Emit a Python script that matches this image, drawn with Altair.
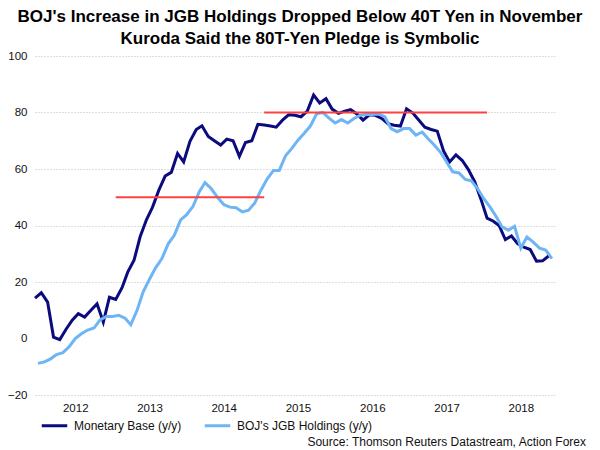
import altair as alt
import pandas as pd

TITLE = ["BOJ's Increase in JGB Holdings Dropped Below 40T Yen in November",
         "Kuroda Said the 80T-Yen Pledge is Symbolic"]
SOURCE = "Source: Thomson Reuters Datastream, Action Forex"
SERIES = ["Monetary Base (y/y)", "BOJ's JGB Holdings (y/y)"]
COLORS = ["#0b0b7e", "#6db5f5"]
YEARS = [2012, 2013, 2014, 2015, 2016, 2017, 2018]

# monthly observations, Dec 2011 .. Nov 2018
MONTHS = pd.date_range("2011-12-01", "2018-11-01", freq="MS")

MONETARY_BASE = [
    14.3, 16.2, 12.9, 0.5, -0.4, 3.2, 6.5, 8.8, 7.6, 10.0, 12.3, 5.8,
    14.6, 13.8, 18.0, 23.5, 27.7, 36.0, 42.0, 46.5, 52.5, 57.5, 58.8, 65.5,
    62.5, 69.8, 74.0, 75.3, 71.5, 70.0, 68.5, 70.6, 70.0, 64.5, 69.4, 70.0,
    75.8, 75.6, 75.2, 74.8, 77.3, 79.2, 79.0, 78.5, 80.5, 86.2, 83.4, 84.9,
    81.2, 79.7, 80.5, 81.0, 79.5, 77.3, 79.2, 79.0, 77.9, 76.0, 75.5, 75.2,
    81.3, 79.8, 77.2, 74.8, 74.0, 73.4, 66.4, 62.5, 65.0, 63.0, 59.8, 55.5,
    49.5, 42.6, 41.5, 40.0, 35.0, 36.3, 33.5, 32.3, 31.5, 27.4, 27.5, 29.3,
]
JGB_HOLDINGS = [
    -8.8, -8.3, -7.2, -5.7, -5.0, -3.0, 0.0, 1.7, 3.0, 3.7, 6.6, 7.8,
    7.8, 8.2, 7.2, 4.9, 10.0, 16.5, 21.0, 25.0, 28.3, 33.5, 36.5, 42.0,
    43.8, 46.8, 52.0, 55.2, 53.0, 50.0, 47.4, 46.5, 46.3, 44.8, 45.4, 48.0,
    52.5, 56.5, 59.5, 59.5, 64.7, 67.2, 70.2, 72.6, 75.2, 79.5, 80.0, 78.0,
    76.3, 77.5, 76.3, 77.8, 79.0, 79.3, 79.3, 79.5, 78.5, 74.3, 73.2, 74.3,
    74.3, 72.0, 73.1, 70.8, 68.5, 66.0, 62.5, 59.0, 58.6, 56.3, 55.8, 53.0,
    49.5, 46.5, 43.0, 39.5, 38.3, 39.7, 32.0, 35.9, 34.1, 32.0, 31.3, 28.3,
]

# pledge levels (T yen) and the periods they are drawn over
PLEDGE_VALUES = [50, 80]
PLEDGE_START = ["2013-01-01", "2015-01-01"]
PLEDGE_END = ["2015-01-01", "2018-01-01"]

FONT = "Liberation Sans"

mb_dates = [d.strftime("%Y-%m-%dT00:00:00") for d in MONTHS]
jgb_dates = [(d + pd.Timedelta(days=15)).strftime("%Y-%m-%dT00:00:00") for d in MONTHS]

df = pd.concat([
    pd.DataFrame({"date": mb_dates, "value": MONETARY_BASE, "series": SERIES[0]}),
    pd.DataFrame({"date": jgb_dates, "value": JGB_HOLDINGS, "series": SERIES[1]}),
])
pledges = pd.DataFrame({
    "start": [s + "T00:00:00" for s in PLEDGE_START],
    "end": [e + "T00:00:00" for e in PLEDGE_END],
    "value": PLEDGE_VALUES,
})

x_scale = alt.Scale(domain=[alt.DateTime(year=2011, month=12, date=1),
                            alt.DateTime(year=2018, month=12, date=1)])
y_scale = alt.Scale(domain=[-20, 100])

lines = alt.Chart(df).mark_line(strokeWidth=3).encode(
    x=alt.X("date:T", scale=x_scale, title=None,
            axis=alt.Axis(values=[alt.DateTime(year=y, month=6, date=16) for y in YEARS],
                          format="%Y", ticks=False, domain=False, grid=False,
                          labelPadding=7, labelFontSize=11.5, labelFont=FONT,
                          labelColor="#111111")),
    y=alt.Y("value:Q", scale=y_scale, title=None,
            axis=alt.Axis(values=[-20, 0, 20, 40, 60, 80, 100], ticks=False, domain=False,
                          labelPadding=8, labelFontSize=11.5, labelFont=FONT,
                          labelColor="#111111", gridColor="#bdbdbd", gridDash=[1, 2],
                          gridOpacity={"condition": {"test": "datum.value === 0", "value": 0},
                                       "value": 1})),
    color=alt.Color("series:N",
                    scale=alt.Scale(domain=SERIES, range=COLORS),
                    legend=alt.Legend(orient="none", legendX=5, legendY=355,
                                      direction="horizontal", title=None,
                                      symbolType="stroke", symbolStrokeWidth=3,
                                      symbolSize=650, labelFontSize=12, labelFont=FONT,
                                      labelColor="#111111", labelOffset=5,
                                      columnPadding=16, padding=0)),
)

rules = alt.Chart(pledges).mark_rule(color="#ff4040", strokeWidth=2).encode(
    x="start:T", x2="end:T", y="value:Q",
)

source = alt.Chart(pd.DataFrame({"text": [SOURCE]})).mark_text(
    align="right", baseline="middle", fontSize=12, font=FONT, color="#111111",
).encode(x=alt.value(551), y=alt.value(386), text="text:N")

chart = alt.layer(lines, rules, source).properties(
    width=520, height=339,
    title=alt.TitleParams(text=TITLE, fontSize=17, font=FONT, fontWeight="bold",
                          anchor="middle", frame="group", lineHeight=22.5,
                          color="#000000", offset=2, dx=5),
    autosize=alt.AutoSizeParams(type="none"),
    padding={"left": 27, "top": 48, "right": 37, "bottom": 58},
).configure_view(stroke=None)

chart.save("out.html", embed_options={"renderer": "svg", "actions": False})
